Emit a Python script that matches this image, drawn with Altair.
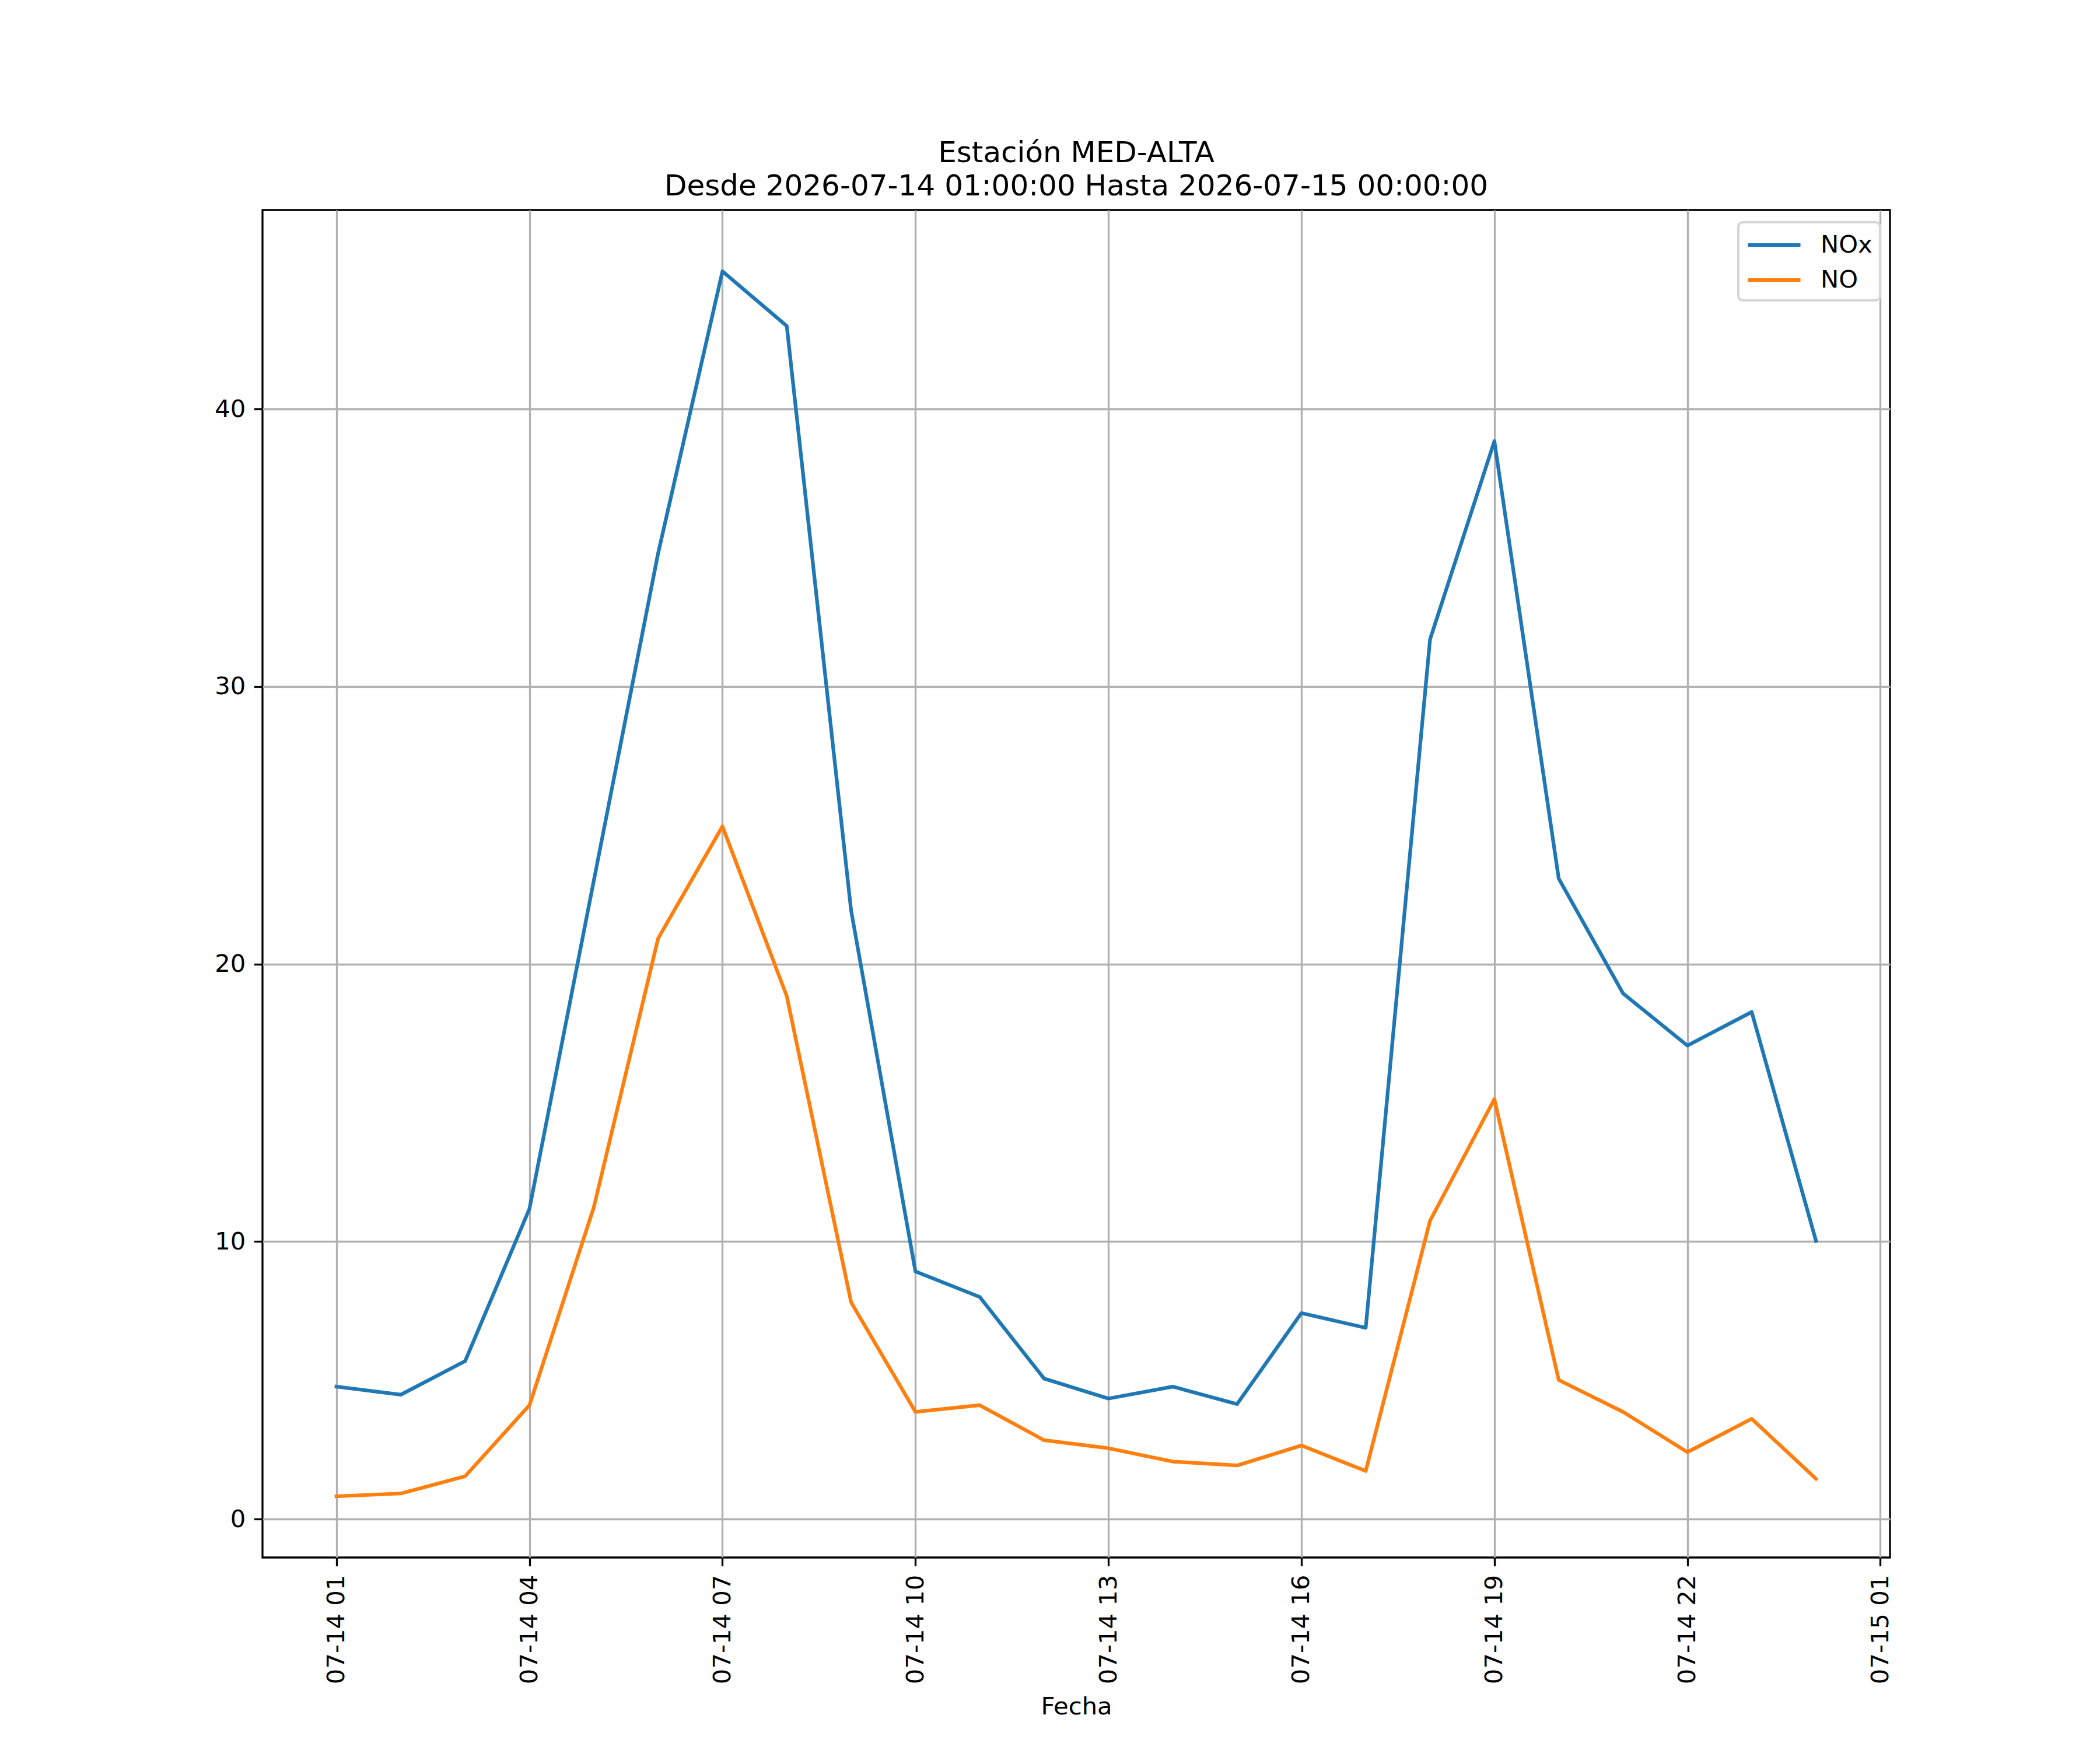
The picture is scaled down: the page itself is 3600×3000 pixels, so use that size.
import altair as alt
import pandas as pd

# ---- data ----
hours = [
    "2026-07-14T01:00:00Z", "2026-07-14T02:00:00Z", "2026-07-14T03:00:00Z",
    "2026-07-14T04:00:00Z", "2026-07-14T05:00:00Z", "2026-07-14T06:00:00Z",
    "2026-07-14T07:00:00Z", "2026-07-14T08:00:00Z", "2026-07-14T09:00:00Z",
    "2026-07-14T10:00:00Z", "2026-07-14T11:00:00Z", "2026-07-14T12:00:00Z",
    "2026-07-14T13:00:00Z", "2026-07-14T14:00:00Z", "2026-07-14T15:00:00Z",
    "2026-07-14T16:00:00Z", "2026-07-14T17:00:00Z", "2026-07-14T18:00:00Z",
    "2026-07-14T19:00:00Z", "2026-07-14T20:00:00Z", "2026-07-14T21:00:00Z",
    "2026-07-14T22:00:00Z", "2026-07-14T23:00:00Z", "2026-07-15T00:00:00Z",
]
nox = [4.77, 4.48, 5.69, 11.18, 23.0, 34.8, 44.96, 42.99, 21.93, 8.92, 8.0, 5.06,
       4.34, 4.77, 4.14, 7.42, 6.89, 31.7, 38.84, 23.08, 18.94, 17.06, 18.27, 10.02]
no = [0.82, 0.92, 1.54, 4.10, 11.23, 20.92, 24.96, 18.84, 7.81, 3.86, 4.10, 2.84,
      2.55, 2.07, 1.93, 2.65, 1.73, 10.75, 15.13, 5.01, 3.86, 2.41, 3.61, 1.45]
series_names = ["NOx", "NO"]
series_colors = ["#1f77b4", "#ff7f0e"]
tick_hours = [(14, 1), (14, 4), (14, 7), (14, 10), (14, 13), (14, 16),
              (14, 19), (14, 22), (15, 1)]
title_lines = ["Estación MED-ALTA",
               "Desde 2026-07-14 01:00:00 Hasta 2026-07-15 00:00:00"]

rows = []
for name, vals in zip(series_names, [nox, no]):
    for h, v in zip(hours, vals):
        rows.append({"Fecha": h, "valor": v, "serie": name})
df = pd.DataFrame(rows)

FONT = "DejaVu Sans"
FS = 41.7

x_ticks = [alt.DateTime(year=2026, month=7, date=d, hours=hh, utc=True) for d, hh in tick_hours]

chart = alt.Chart(df).mark_line(strokeWidth=6.25, strokeJoin="round", strokeCap="square").encode(
    x=alt.X("Fecha:T",
            scale=alt.Scale(type="utc",
                            domain=[alt.DateTime(year=2026, month=7, date=13, hours=23, minutes=51, utc=True),
                                    alt.DateTime(year=2026, month=7, date=15, hours=1, minutes=9, utc=True)]),
            axis=alt.Axis(title="Fecha", values=x_ticks,
                          labelExpr="utcFormat(datum.value, '%m-%d %H')",
                          labelAngle=270, labelAlign="right", labelBaseline="middle",
                          labelPadding=14.6, tickSize=14.6, tickWidth=3.3, tickColor="black",
                          labelFontSize=FS, titleFontSize=FS, titleFontWeight="normal",
                          titlePadding=35, labelFont=FONT, titleFont=FONT, labelColor="black",
                          titleColor="black", domain=False, grid=True, gridColor="#b0b0b0",
                          gridWidth=3.3, labelFlush=False, labelOverlap=False, labelLimit=600)),
    y=alt.Y("valor:Q",
            scale=alt.Scale(domain=[-1.387, 47.17], nice=False, zero=False),
            axis=alt.Axis(title=None, values=[0, 10, 20, 30, 40], labelPadding=14.6,
                          tickSize=14.6, tickWidth=3.3, tickColor="black", labelFontSize=FS,
                          labelFont=FONT, labelColor="black", domain=False, grid=True,
                          gridColor="#b0b0b0", gridWidth=3.3, labelFlush=False)),
    color=alt.Color("serie:N",
                    scale=alt.Scale(domain=series_names, range=series_colors),
                    legend=alt.Legend(title=None, orient="none", legendX=2530, legendY=21,
                                      symbolType="M-1,0H3", symbolSize=2025, symbolStrokeWidth=6.25,
                                      labelFontSize=FS, labelFont=FONT, labelColor="black",
                                      labelOffset=76, rowPadding=12, padding=13,
                                      fillColor="rgba(255,255,255,0.8)", strokeColor="#d6d6d6",
                                      cornerRadius=8)),
    order=alt.Order("serie:N", sort="descending"),
).properties(
    width=2790, height=2310,
    background="white",
    title=alt.TitleParams(text=title_lines, fontSize=50, font=FONT, fontWeight="normal",
                          color="black", anchor="middle", frame="group", baseline="bottom",
                          offset=-35, lineHeight=57),
    autosize=alt.AutoSizeParams(type="none"),
    padding={"left": 442, "top": 352, "right": 344, "bottom": 322},
).configure_view(
    stroke="black", strokeWidth=3.3
).configure_legend(
    strokeWidth=4.2
)

chart.save("out.html", embed_options={"renderer": "svg", "actions": False})
